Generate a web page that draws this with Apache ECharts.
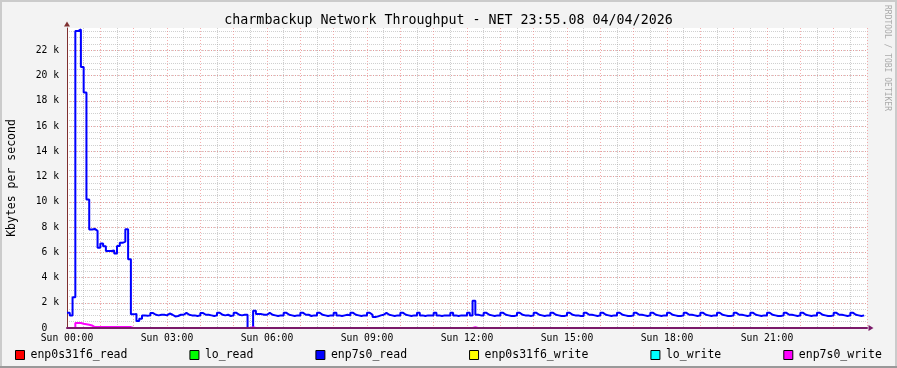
<!DOCTYPE html>
<html><head><meta charset="utf-8">
<script src="https://cdn.jsdelivr.net/npm/echarts@6/dist/echarts.min.js"></script>
<style>html,body{margin:0;padding:0;background:#f3f3f3;overflow:hidden}#c{width:897px;height:368px}</style>
</head><body><div id="c"></div>
<script>
// ---- data (5-minute samples, Kbytes/s) ----
const STEP_MIN = 5;
const seriesNames = ['enp0s31f6_read','lo_read','enp7s0_read','enp0s31f6_write','lo_write','enp7s0_write'];
const xTickLabels = ['Sun 00:00','Sun 03:00','Sun 06:00','Sun 09:00','Sun 12:00','Sun 15:00','Sun 18:00','Sun 21:00'];
const yTickLabels = ['0  ','2 k','4 k','6 k','8 k','10 k','12 k','14 k','16 k','18 k','20 k','22 k'];

const enp7s0_read = [
  1.21, 1.0, 2.43, 23.53, 23.66, 20.68, 18.65, 10.18, 7.81, 7.85, 7.7, 6.36,
  6.7, 6.47, 6.1, 6.1, 6.15, 5.9, 6.5, 6.75, 6.85, 7.83, 5.44,
  1.08, 1.12, 0.55, 0.74, 1.0, 0.97, 1.0,
  1.18, 1.05, 1.0, 1.05, 1.05, 1.0,
  1.15, 1.05, 0.92, 0.95, 1.05, 1.05,
  1.2, 1.05, 1.0, 1.0, 0.95, 1.0,
  1.18, 1.05, 1.05, 1.0, 0.95, 1.0,
  1.2, 1.05, 1.0, 1.05, 0.95, 1.0,
  1.2, 1.05, 1.0, 1.05, 1.05, 0,
  0, 1.37, 1.1, 1.1, 1.05, 1.05,
  1.2, 1.05, 1.0, 0.95, 1.0, 1.0,
  1.2, 1.05, 1.0, 0.95, 1.0, 1.0,
  1.2, 1.05, 1.05, 0.95, 1.0, 1.0,
  1.2, 1.05, 1.0, 0.95, 1.0, 1.0,
  1.2, 1.0, 0.95, 1.0, 1.05, 1.0,
  1.2, 1.05, 1.0, 0.95, 1.0, 1.0,
  1.2, 1.05, 0.88, 0.92, 1.0, 1.05,
  1.2, 1.05, 1.0, 0.95, 1.0, 1.0,
  1.2, 1.05, 1.0, 0.95, 1.0, 1.0,
  1.2, 1.0, 0.95, 1.0, 1.0, 1.0,
  1.2, 1.0, 0.95, 1.0, 1.0, 1.0,
  1.2, 1.0, 0.95, 1.0, 1.0, 1.0,
  1.2, 1.0, 2.16, 1.05, 1.0, 1.0,
  1.2, 1.05, 1.0, 0.95, 1.0, 1.0,
  1.2, 1.05, 1.0, 0.95, 0.95, 1.0,
  1.2, 1.05, 1.0, 1.0, 0.95, 1.0,
  1.2, 1.05, 1.0, 0.95, 1.0, 1.0,
  1.2, 1.05, 1.0, 0.95, 0.95, 1.0,
  1.2, 1.05, 1.0, 1.0, 0.95, 0.95,
  1.2, 1.05, 1.05, 1.0, 0.95, 1.0,
  1.2, 1.05, 1.0, 0.95, 1.0, 1.0,
  1.2, 1.05, 1.0, 0.95, 0.95, 1.0,
  1.2, 1.05, 1.05, 1.0, 0.95, 1.0,
  1.2, 1.05, 1.0, 0.95, 1.0, 1.0,
  1.2, 1.05, 1.0, 0.95, 0.95, 1.0,
  1.2, 1.05, 1.05, 1.0, 0.95, 1.0,
  1.2, 1.05, 1.0, 0.95, 1.0, 1.0,
  1.2, 1.05, 1.0, 0.95, 0.95, 1.0,
  1.2, 1.05, 1.05, 1.0, 0.95, 1.0,
  1.2, 1.05, 1.0, 0.95, 1.0, 1.0,
  1.2, 1.05, 1.0, 0.95, 0.95, 1.0,
  1.2, 1.05, 1.05, 1.0, 0.95, 1.0,
  1.2, 1.05, 1.0, 0.95, 1.0, 1.0,
  1.2, 1.05, 1.0, 0.95, 0.95, 1.0,
  1.2, 1.05, 1.05, 1.0, 0.95, 1.0,
  1.2, 1.05, 1.0, 0.95, 1.0, 1.05
];

const enp7s0_write = [
  0,0,0,0.4,0.4,0.34,0.3,0.26,0.2,0.07,0.07,0.07,0.07,0.07,0.07,0.07,0.07,0.07,0.07,0.07,0.07,0.07,0.07,0,
  0,0,0,0,0,0,0,0,0,0,0,0,0,0,0,0,0,0,0,0,0,0,0,0,
  0,0,0,0,0,0,0,0,0,0,0,0,0,0,0,0,0,0,0.06,0,0,0,0,0,
  0,0,0,0,0,0,0,0,0,0,0,0,0,0,0,0,0,0,0,0,0,0,0,0,
  0,0,0,0,0,0,0,0,0,0,0,0,0,0,0,0,0,0,0,0,0,0,0,0,
  0,0,0,0,0,0,0,0,0,0,0,0,0,0,0,0,0,0,0,0,0,0,0,0,
  0,0,0.06,0,0,0,0,0,0,0,0,0,0,0,0,0,0,0,0,0,0,0,0,0,
  0,0,0,0,0,0,0,0,0,0,0,0,0,0,0,0,0,0,0,0,0,0,0,0,
  0,0,0,0,0,0,0,0,0,0,0,0,0,0,0,0,0,0,0,0,0,0,0,0,
  0,0,0,0,0,0,0,0,0,0,0,0,0,0,0,0,0,0,0,0,0,0,0,0,
  0,0,0,0,0,0,0,0,0,0,0,0,0,0,0,0,0,0,0,0,0,0,0,0,
  0,0,0,0,0,0,0,0,0,0,0,0,0,0,0,0,0,0,0,0,0,0,0,0
];

// the other four interfaces read 0 all day
const zeroTraffic = [
  0,0,0,0,0,0,0,0,0,0,0,0,0,0,0,0,0,0,0,0,0,0,0,0,
  0,0,0,0,0,0,0,0,0,0,0,0,0,0,0,0,0,0,0,0,0,0,0,0,
  0,0,0,0,0,0,0,0,0,0,0,0,0,0,0,0,0,0,0,0,0,0,0,0,
  0,0,0,0,0,0,0,0,0,0,0,0,0,0,0,0,0,0,0,0,0,0,0,0,
  0,0,0,0,0,0,0,0,0,0,0,0,0,0,0,0,0,0,0,0,0,0,0,0,
  0,0,0,0,0,0,0,0,0,0,0,0,0,0,0,0,0,0,0,0,0,0,0,0,
  0,0,0,0,0,0,0,0,0,0,0,0,0,0,0,0,0,0,0,0,0,0,0,0,
  0,0,0,0,0,0,0,0,0,0,0,0,0,0,0,0,0,0,0,0,0,0,0,0,
  0,0,0,0,0,0,0,0,0,0,0,0,0,0,0,0,0,0,0,0,0,0,0,0,
  0,0,0,0,0,0,0,0,0,0,0,0,0,0,0,0,0,0,0,0,0,0,0,0,
  0,0,0,0,0,0,0,0,0,0,0,0,0,0,0,0,0,0,0,0,0,0,0,0,
  0,0,0,0,0,0,0,0,0,0,0,0,0,0,0,0,0,0,0,0,0,0,0,0
];

const enp0s31f6_read = zeroTraffic, lo_read = zeroTraffic, enp0s31f6_write = zeroTraffic, lo_write = zeroTraffic;
const seriesValues = [enp0s31f6_read, lo_read, enp7s0_read, enp0s31f6_write, lo_write, enp7s0_write];
const seriesColors = ['#FF0000','#00FF00','#0000FF','#FFFF00','#00FFFF','#FF00FF'];

// ---- chart ----
const MONO = "'DejaVu Sans Mono', monospace";
const chart = echarts.init(document.getElementById('c'), null, {renderer: 'canvas'});
const Y_MAX = 23.77;
const majorGrid = {show: true, lineStyle: {color: 'rgba(240,120,120,0.6)', width: 1, type: [1, 2]}};
const minorGrid = {show: true, lineStyle: {color: 'rgba(150,150,150,0.45)', width: 1, type: [1, 1]}};

const option = {
  animation: false,
  backgroundColor: '#f3f3f3',
  title: {
    text: 'charmbackup Network Throughput - NET 23:55.08 04/04/2026',
    left: 'center', top: 14, padding: 0,
    textStyle: {fontFamily: MONO, fontSize: 13.3, fontWeight: 'normal', color: '#000'}
  },
  grid: {left: 67, top: 28, width: 800, height: 300, show: true, backgroundColor: '#ffffff', borderWidth: 0,
         containLabel: false, outerBoundsMode: 'none'},
  legend: {
    left: 15, top: 349, padding: 0, itemGap: 62, itemWidth: 9, itemHeight: 9, icon: 'rect',
    itemStyle: {borderColor: '#000', borderWidth: 1},
    textStyle: {fontFamily: MONO, fontSize: 11.5, color: '#000', padding: [0, 0, 0, 1]},
    data: seriesNames
  },
  xAxis: [
    {
      type: 'value', min: 0, max: 1440, interval: 60, z: 3,
      axisLine: {show: true, symbol: ['none', 'triangle'], symbolSize: [6, 5], symbolOffset: [0, 4],
                 lineStyle: {color: '#7a1a6a', width: 2}},
      axisTick: {show: false},
      axisLabel: {fontFamily: MONO, fontSize: 9.7, color: '#000', margin: 5,
                  formatter: v => (v % 180 === 0 && v < 1440) ? xTickLabels[v / 180] : ''},
      splitLine: {show: false}
    },
    {
      type: 'value', min: 0, max: 1440, interval: 60, position: 'top', z: 0,
      axisLine: {show: false}, axisTick: {show: false}, axisLabel: {show: false},
      splitLine: Object.assign({showMinLine: false}, majorGrid),
      minorTick: {show: false, splitNumber: 2},
      minorSplitLine: minorGrid
    }
  ],
  yAxis: [
    {
      type: 'value', min: 0, max: Y_MAX, interval: 2, z: 1,
      name: 'Kbytes per second', nameLocation: 'middle', nameGap: 49, nameMoveOverlap: false,
      nameTextStyle: {fontFamily: MONO, fontSize: 11.5, color: '#000'},
      axisLine: {show: true, symbol: ['none', 'triangle'], symbolSize: [6, 5], symbolOffset: [0, 4],
                 lineStyle: {color: '#7f3030', width: 1}},
      axisTick: {show: false},
      axisLabel: {fontFamily: MONO, fontSize: 9.7, color: '#000', margin: 8, showMaxLabel: false,
                  formatter: v => { const k = Math.round(v / 2); return Math.abs(v - 2 * k) < 1e-6 ? yTickLabels[k] : ''; }},
      splitLine: Object.assign({showMaxLine: false, showMinLine: false}, majorGrid)
    },
    {
      type: 'value', min: 0, max: Y_MAX, interval: 0.5, z: 0,
      axisLine: {show: false}, axisTick: {show: false}, axisLabel: {show: false},
      splitLine: Object.assign({showMaxLine: false, showMinLine: false}, minorGrid)
    }
  ],
  graphic: [
    {type: 'rect', shape: {x: 0, y: 0, width: 897, height: 2}, style: {fill: '#cbcbcb'}, silent: true},
    {type: 'rect', shape: {x: 0, y: 0, width: 2, height: 368}, style: {fill: '#cbcbcb'}, silent: true},
    {type: 'rect', shape: {x: 895, y: 0, width: 2, height: 368}, style: {fill: '#cbcbcb'}, silent: true},
    {type: 'rect', shape: {x: 0, y: 366, width: 897, height: 2}, style: {fill: '#999999'}, silent: true},
    {type: 'text', x: 887, y: 5, rotation: -Math.PI / 2, silent: true,
     style: {text: 'RRDTOOL / TOBI OETIKER', fontFamily: MONO, fontSize: 8, fill: '#aaaaaa', align: 'left', verticalAlign: 'middle'}}
  ],
  series: seriesNames.map((name, s) => ({
    name, type: 'line', step: 'end', xAxisIndex: 0, yAxisIndex: 0,
    showSymbol: false, symbol: 'none', z: 2 + s * 0.01,
    color: seriesColors[s],
    itemStyle: {color: seriesColors[s]},
    lineStyle: {color: seriesColors[s], width: 2},
    data: seriesValues[s].map((v, i) => [i * STEP_MIN, v])
  }))
};
chart.setOption(option);
</script></body></html>
